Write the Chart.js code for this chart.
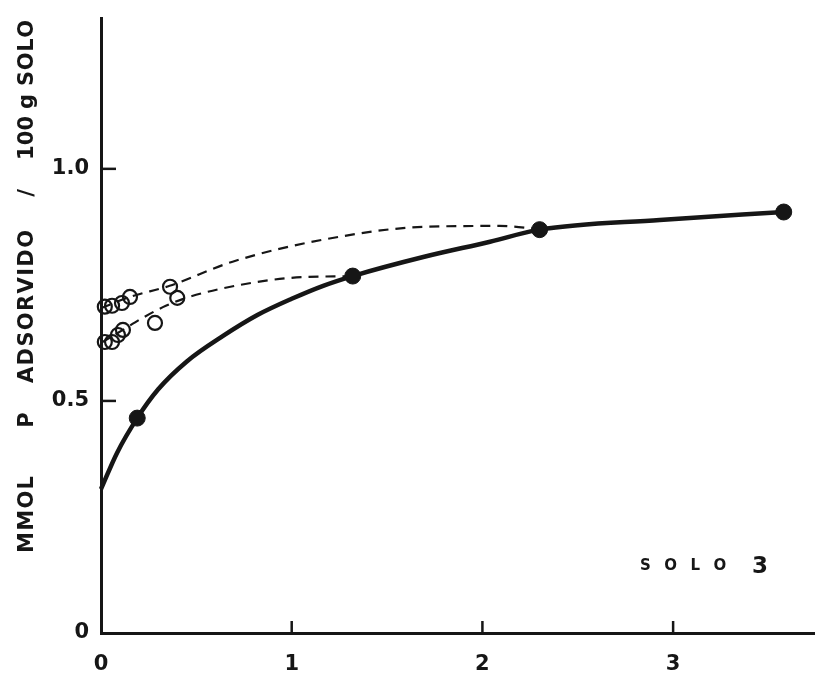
<!DOCTYPE html>
<html>
<head>
<meta charset="utf-8">
<script src="https://cdn.jsdelivr.net/npm/chart.js@4.4.1/dist/chart.umd.min.js"></script>
<style>
  html, body { margin: 0; padding: 0; background: #fff; overflow: hidden; }
  #wrap { width: 815px; height: 675px; }
</style>
</head>
<body>
<div id="wrap"><canvas id="adsChart"></canvas></div>
<script>
// axis ticks
const xTicks = [0, 1, 2, 3];
const xTickLabels = ["0", "1", "2", "3"];
const yTicks = [0, 0.5, 1.0];
const yTickLabels = ["0", "0.5", "1.0"];

// filled points (measured)
const measX = [0.19, 1.32, 2.30, 3.58];
const measY = [0.463, 0.769, 0.869, 0.907];

// solid curve
const curveX = [0, 0.084, 0.19, 0.30, 0.45, 0.64, 0.82, 1.00, 1.165, 1.32, 1.69, 2.04, 2.30, 2.93, 3.58];
const curveY = [0.31, 0.388, 0.463, 0.525, 0.585, 0.640, 0.685, 0.720, 0.748, 0.769, 0.810, 0.843, 0.869, 0.890, 0.907];

// open circles, two groups
const upperX = [0.02, 0.058, 0.11, 0.152, 0.362];
const upperY = [0.703, 0.705, 0.711, 0.724, 0.746];
const lowerX = [0.02, 0.058, 0.089, 0.115, 0.283, 0.40];
const lowerY = [0.627, 0.627, 0.642, 0.653, 0.668, 0.722];

// dashed curves
const upperDashX = [0, 0.152, 0.36, 0.69, 1.16, 1.69, 2.09, 2.30];
const upperDashY = [0.700, 0.724, 0.748, 0.800, 0.847, 0.875, 0.877, 0.870];
const lowerDashX = [0, 0.115, 0.21, 0.34, 0.47, 0.73, 0.99, 1.32];
const lowerDashY = [0.625, 0.653, 0.677, 0.705, 0.725, 0.750, 0.765, 0.769];

const yTitle = "MMOL P ADSORVIDO / 100 g SOLO";
const soloLabel = "SOLO";
const soloNumber = "3";

const INK = "#161616";
const FONT = "'DejaVu Sans', Verdana, sans-serif";

function toPoints(xs, ys) {
    return xs.map((x, i) => ({ x: x, y: ys[i] }));
}

function textWidth(ctx, text, gap) {
    let w = 0;
    for (const ch of text) w += ctx.measureText(ch).width;
    return w + gap * (text.length - 1);
}

function drawSpaced(ctx, text, x, y, gap) {
    let cx = x;
    for (const ch of text) {
        ctx.fillText(ch, cx, y);
        cx += ctx.measureText(ch).width + gap;
    }
}

// inward tick marks, rotated y title, "SOLO 3" label
const decorations = {
    id: "decorations",
    afterDraw(chart) {
        const ctx = chart.ctx;
        const xs = chart.scales.x;
        const ys = chart.scales.y;
        const area = chart.chartArea;

        ctx.save();
        ctx.strokeStyle = INK;
        ctx.lineWidth = 2.5;
        xTicks.forEach(v => {
            if (v === 0) return;
            const px = xs.getPixelForValue(v);
            ctx.beginPath();
            ctx.moveTo(px, area.bottom);
            ctx.lineTo(px, area.bottom - 12);
            ctx.stroke();
        });
        yTicks.forEach(v => {
            if (v === 0) return;
            const py = ys.getPixelForValue(v);
            ctx.beginPath();
            ctx.moveTo(area.left, py);
            ctx.lineTo(area.left + 15, py);
            ctx.stroke();
        });

        // y title, word by word (screen y spans, bottom -> top)
        const words = yTitle.split(" ");
        const spans = [[553, 476], [427, 413], [383, 230], [200, 186], [160, 116], [108, 95], [86, 20]];
        ctx.fillStyle = INK;
        ctx.font = "bold 21px " + FONT;
        ctx.textBaseline = "alphabetic";
        ctx.textAlign = "left";
        ctx.translate(33, 0);
        ctx.rotate(-Math.PI / 2);
        words.forEach((w, i) => {
            const from = spans[i][0], to = spans[i][1];
            if (w.length === 1) {
                const tw = ctx.measureText(w).width;
                ctx.fillText(w, -(from + to) / 2 - tw / 2, 0);
            } else {
                const natural = textWidth(ctx, w, 0);
                const gap = Math.max(0, (from - to - natural) / (w.length - 1));
                drawSpaced(ctx, w, -from, 0, gap);
            }
        });
        ctx.restore();

        // SOLO 3
        ctx.save();
        ctx.fillStyle = INK;
        ctx.textBaseline = "alphabetic";
        ctx.font = "bold 15px " + FONT;
        drawSpaced(ctx, soloLabel, xs.getPixelForValue(2.826), ys.getPixelForValue(0.136), 13.5);
        ctx.font = "bold 23px " + FONT;
        ctx.fillText(soloNumber, xs.getPixelForValue(3.414), ys.getPixelForValue(0.13));
        ctx.restore();
    }
};

const ctx = document.getElementById("adsChart").getContext("2d");

new Chart(ctx, {
    type: "scatter",
    data: {
        datasets: [
            {
                label: "upper open",
                data: toPoints(upperX, upperY),
                pointRadius: 7,
                pointBorderWidth: 2.2,
                pointBackgroundColor: "rgba(255,255,255,0)",
                pointBorderColor: INK,
                clip: false
            },
            {
                label: "lower open",
                data: toPoints(lowerX, lowerY),
                pointRadius: 7,
                pointBorderWidth: 2.2,
                pointBackgroundColor: "rgba(255,255,255,0)",
                pointBorderColor: INK,
                clip: false
            },
            {
                label: "measured",
                data: toPoints(measX, measY),
                pointRadius: 8,
                pointBackgroundColor: INK,
                pointBorderColor: INK,
                clip: false
            },
            {
                label: "upper dashed",
                data: toPoints(upperDashX, upperDashY),
                showLine: true,
                borderColor: INK,
                borderWidth: 2.2,
                borderDash: [10, 7],
                pointRadius: 0,
                tension: 0.4,
                cubicInterpolationMode: "monotone"
            },
            {
                label: "lower dashed",
                data: toPoints(lowerDashX, lowerDashY),
                showLine: true,
                borderColor: INK,
                borderWidth: 2.2,
                borderDash: [10, 7],
                pointRadius: 0,
                tension: 0.4,
                cubicInterpolationMode: "monotone"
            },
            {
                label: "curve",
                data: toPoints(curveX, curveY),
                showLine: true,
                borderColor: INK,
                borderWidth: 4.5,
                pointRadius: 0,
                tension: 0.4,
                cubicInterpolationMode: "monotone",
                clip: false
            }
        ]
    },
    options: {
        responsive: true,
        maintainAspectRatio: false,
        animation: false,
        layout: { autoPadding: false, padding: { top: 18, right: 0, left: 0, bottom: 0 } },
        plugins: {
            legend: { display: false },
            tooltip: { enabled: false }
        },
        scales: {
            x: {
                type: "linear",
                min: 0,
                max: 3.744,
                grid: { display: false },
                border: { display: true, width: 3, color: INK },
                afterBuildTicks: scale => { scale.ticks = xTicks.map(v => ({ value: v })); },
                afterFit: scale => { scale.height = 42; },
                ticks: {
                    padding: 11,
                    color: INK,
                    font: { family: FONT, size: 21, weight: "bold" },
                    callback: (value, index) => xTickLabels[index]
                }
            },
            y: {
                type: "linear",
                min: 0,
                max: 1.325,
                grid: { display: false },
                border: { display: true, width: 3, color: INK },
                afterBuildTicks: scale => { scale.ticks = yTicks.map(v => ({ value: v })); },
                afterFit: scale => { scale.width = 101; },
                ticks: {
                    padding: 4,
                    color: INK,
                    font: { family: FONT, size: 21, weight: "bold" },
                    callback: (value, index) => yTickLabels[index]
                }
            }
        }
    },
    plugins: [decorations]
});
</script>
</body>
</html>
